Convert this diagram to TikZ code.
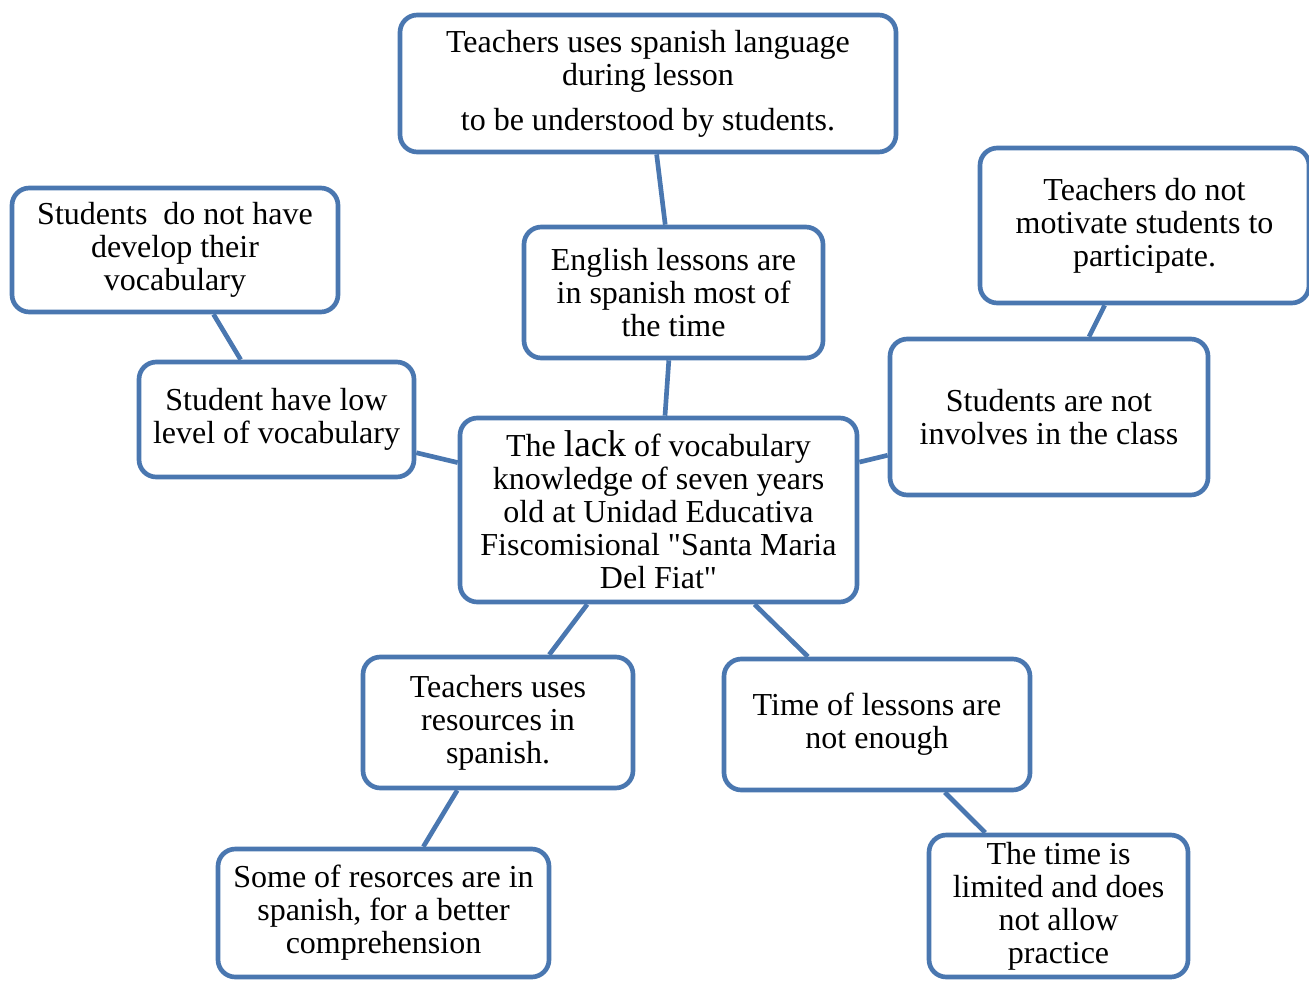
\documentclass[tikz,border=0pt]{standalone}
\usepackage{fontspec}
\setmainfont{Liberation Serif}[Ligatures=TeXOff]
\definecolor{boxblue}{RGB}{74,119,176}
\begin{document}
\begin{tikzpicture}[x=0.75pt,y=-0.75pt,
  box/.style={draw=boxblue, line width=3.5pt, rounded corners=13pt, fill=white,
    align=center, inner sep=0pt,
    font=\fontsize{24}{24.75}\selectfont},
  link/.style={draw=boxblue, line width=3.5pt}]
\useasboundingbox (0,0) rectangle (1309,981);
\clip (0,0) rectangle (1309,981);
\node[box, minimum width=372pt, minimum height=102.75pt] (top) at (648,83.5)
  {\raisebox{-2pt}{}Teachers uses spanish language\\during lesson\\[9pt]to be understood by students.};
\node[box, minimum width=224.25pt, minimum height=98.25pt] (eng) at (673.5,292.5)
  {English lessons are\\in spanish most of\\the time};
\node[box, minimum width=244.5pt, minimum height=93pt] (dev) at (175,250)
  {Students\ \ do not have\\develop their\\vocabulary};
\node[box, minimum width=206.25pt, minimum height=86.25pt] (low) at (276.5,419.5)
  {Student have low\\level of vocabulary};
\node[box, minimum width=297.75pt, minimum height=138pt] (ctr) at (658.5,510)
  {The {\fontsize{28}{24.75}\selectfont lack} of vocabulary\\knowledge of seven years\\old at Unidad Educativa\\Fiscomisional "Santa Maria\\Del Fiat"};
\node[box, minimum width=246.75pt, minimum height=116.25pt] (mot) at (1144.5,225.5)
  {Teachers do not\\motivate students to\\participate.};
\node[box, minimum width=238.5pt, minimum height=117pt] (inv) at (1049,417)
  {Students are not\\involves in the class};
\node[box, minimum width=202.5pt, minimum height=98.25pt] (res) at (498,722.5)
  {Teachers uses\\resources in\\spanish.};
\node[box, minimum width=229.5pt, minimum height=98.25pt] (tim) at (877,724.5)
  {Time of lessons are\\not enough};
\node[box, minimum width=248.25pt, minimum height=96pt] (som) at (383.5,913)
  {Some of resorces are in\\spanish, for a better\\comprehension};
\node[box, minimum width=194.25pt, minimum height=106.5pt] (lim) at (1058.5,906)
  {The time is\\limited and does\\not allow\\practice};
\draw[link] (top) -- (eng);
\draw[link] (eng) -- (ctr);
\draw[link] (dev) -- (low);
\draw[link] (low) -- (ctr);
\draw[link] (ctr) -- (inv);
\draw[link] (mot) -- (inv);
\draw[link] (ctr) -- (res);
\draw[link] (ctr) -- (tim);
\draw[link] (res) -- (som);
\draw[link] (tim) -- (lim);
\end{tikzpicture}
\end{document}
